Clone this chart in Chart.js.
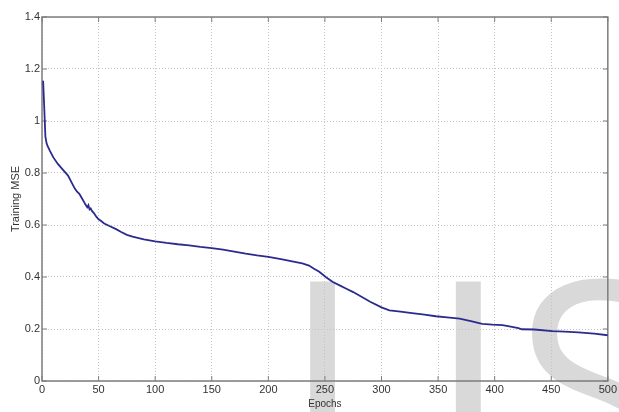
<!DOCTYPE html>
<html>
<head>
<meta charset="utf-8">
<title>Training MSE</title>
<script src="https://cdn.jsdelivr.net/npm/chart.js"></script>
<style>
  html, body { margin: 0; padding: 0; background: #fff; }
  canvas { display: block; }
</style>
</head>
<body>
<canvas id="mseChart" width="619" height="412"></canvas>
<script>
var epochs = [1, 2, 3, 4, 5, 7, 10, 14, 18, 23, 26, 29, 31, 33, 35, 37, 38, 39, 40, 41, 42, 43, 44, 46, 48, 50,
    52, 55, 60, 65, 70, 75, 80, 90, 100, 110, 120, 130, 140, 150, 160, 170, 180, 190, 200, 210, 220, 230,
    236, 240, 245, 251, 257, 263, 269, 275, 280, 290, 300, 307, 315, 327, 338, 348, 358, 369, 379, 389,
    398, 407, 413, 421, 424, 435, 451, 462, 474, 488, 500];
var trainingMse = [1.155, 1.05, 0.94, 0.915, 0.903, 0.885, 0.86, 0.835, 0.815, 0.79, 0.765, 0.74, 0.728, 0.72,
    0.705, 0.69, 0.682, 0.675, 0.668, 0.676, 0.66, 0.664, 0.655, 0.645, 0.632, 0.622,
    0.616, 0.606, 0.595, 0.585, 0.573, 0.562, 0.555, 0.545, 0.537, 0.531, 0.526, 0.522, 0.516, 0.511, 0.505,
    0.498, 0.49, 0.483, 0.477, 0.47, 0.461, 0.452,
    0.444, 0.433, 0.42, 0.399, 0.381, 0.368, 0.355, 0.342, 0.33, 0.305, 0.283, 0.272, 0.268, 0.261, 0.255,
    0.249, 0.245, 0.24, 0.23, 0.22,
    0.217, 0.215, 0.21, 0.203, 0.199, 0.198, 0.192, 0.19, 0.187, 0.182, 0.176];
var xTicks = [0, 50, 100, 150, 200, 250, 300, 350, 400, 450, 500];
var yTicks = [0, 0.2, 0.4, 0.6, 0.8, 1, 1.2, 1.4];

var ctx = document.getElementById('mseChart').getContext('2d');
var points = epochs.map(function (e, i) { return { x: e, y: trainingMse[i] }; });
var labelFont = { family: '"Liberation Sans", Arial, sans-serif', size: 11 };
var markFont = '"Open Sans", sans-serif';

// big grey letters in the lower right, under everything else
var watermark = {
    id: 'watermark',
    beforeDraw: function (chart) {
        var c = chart.ctx;
        c.save();
        c.fillStyle = '#d9d9d9';
        c.textAlign = 'left';
        c.textBaseline = 'alphabetic';
        // size the font so the stem of the I comes out 28px wide
        c.font = '300px ' + markFont;
        var probe = c.measureText('I');
        var size = 300 * 28 / (probe.actualBoundingBoxLeft + probe.actualBoundingBoxRight);
        c.font = size.toFixed(1) + 'px ' + markFont;
        var mI = c.measureText('I');
        var base = 280 + mI.actualBoundingBoxAscent;
        c.fillText('I', 309 + mI.actualBoundingBoxLeft, base);
        var mJ = c.measureText('J');
        c.fillText('J', 484 - mJ.actualBoundingBoxRight, base);
        var mS = c.measureText('S');
        c.fillText('S', 528 + mS.actualBoundingBoxLeft, base);
        c.restore();
    }
};

// box round the plot with inward tick marks on all four sides
var frame = {
    id: 'frame',
    beforeDatasetsDraw: function (chart) {
        var a = chart.chartArea, c = chart.ctx;
        var xs = chart.scales.x, ys = chart.scales.y;
        c.save();
        c.strokeStyle = '#7d7d7d';
        c.lineWidth = 1.5;
        c.strokeRect(a.left, a.top, a.right - a.left, a.bottom - a.top);
        c.lineWidth = 1;
        c.beginPath();
        xTicks.forEach(function (t) {
            var px = xs.getPixelForValue(t);
            c.moveTo(px, a.bottom); c.lineTo(px, a.bottom - 5);
            c.moveTo(px, a.top); c.lineTo(px, a.top + 5);
        });
        yTicks.forEach(function (t) {
            var py = ys.getPixelForValue(t);
            c.moveTo(a.left, py); c.lineTo(a.left + 5, py);
            c.moveTo(a.right, py); c.lineTo(a.right - 5, py);
        });
        c.stroke();
        c.restore();
    }
};

var mseChart = new Chart(ctx, {
    type: 'scatter',
    data: {
        datasets: [{
            data: points,
            showLine: true,
            borderColor: '#2b2b8f',
            borderWidth: 1.8,
            pointRadius: 0,
            tension: 0
        }]
    },
    options: {
        responsive: false,
        animation: false,
        layout: { padding: { top: 17, right: 10, left: 0, bottom: 0 } },
        plugins: { legend: { display: false }, tooltip: { enabled: false } },
        scales: {
            x: {
                type: 'linear',
                min: 0,
                max: 500,
                afterBuildTicks: function (s) { s.ticks = xTicks.map(function (v) { return { value: v }; }); },
                afterFit: function (s) { s.height = 31; },
                grid: { color: '#c4c4c4', drawTicks: false },
                border: { display: false, dash: [1, 2] },
                ticks: { padding: 2, color: '#333', font: labelFont, maxRotation: 0 },
                title: {
                    display: true, text: 'Epochs', color: '#333',
                    font: { family: '"Liberation Sans", Arial, sans-serif', size: 10 },
                    padding: { top: 0, bottom: 2 }
                }
            },
            y: {
                min: 0,
                max: 1.4,
                afterBuildTicks: function (s) { s.ticks = yTicks.map(function (v) { return { value: v }; }); },
                afterFit: function (s) { s.width = 42; },
                grid: { color: '#c4c4c4', drawTicks: false },
                border: { display: false, dash: [1, 2] },
                ticks: {
                    padding: 2, color: '#333', font: labelFont,
                    callback: function (v) { return String(Number(v.toFixed(1))); }
                },
                title: {
                    display: true, text: 'Training MSE', color: '#333',
                    font: { family: '"Liberation Sans", Arial, sans-serif', size: 11 },
                    padding: { top: 9, bottom: 0 }
                }
            }
        }
    },
    plugins: [watermark, frame]
});
</script>
</body>
</html>
